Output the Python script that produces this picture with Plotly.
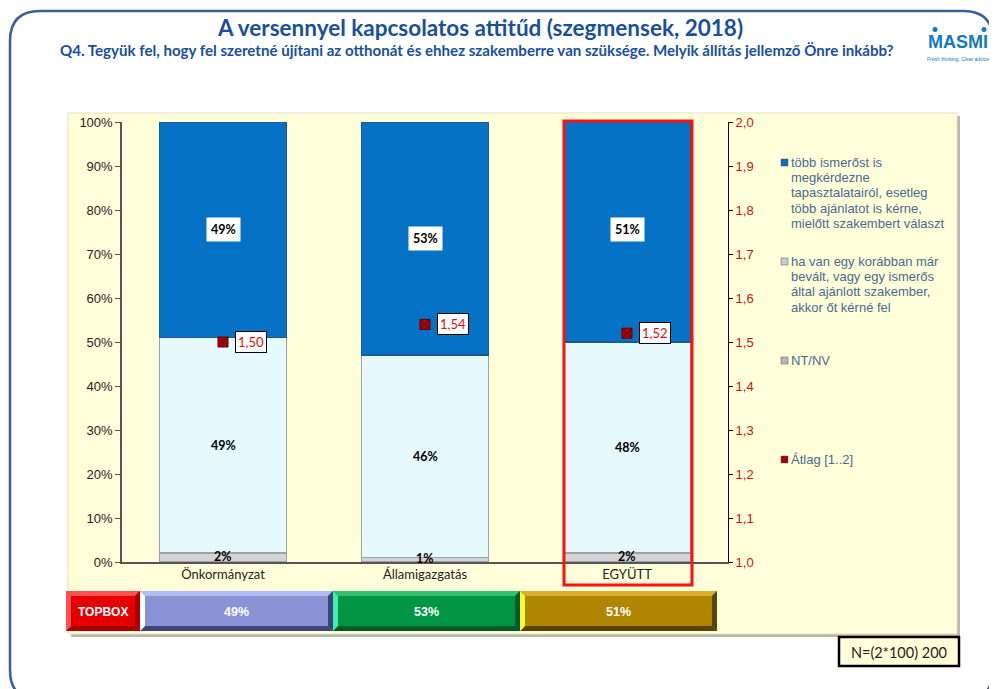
import plotly.graph_objects as go

# Adatok (szegmensek, 2018)
categories = ["Önkormányzat", "Államigazgatás", "EGYÜTT"]
nt_nv = [0.02, 0.01, 0.02]
ha_van = [0.49, 0.46, 0.48]
tobb = [0.49, 0.53, 0.51]
atlag = [1.50, 1.54, 1.52]
topbox_labels = ["49%", "53%", "51%"]

series_names = [
    "több ismerőst is<br>megkérdezne<br>tapasztalatairól, esetleg<br>több ajánlatot is kérne,<br>mielőtt szakembert választ",
    "ha van egy korábban már<br>bevált, vagy egy ismerős<br>által ajánlott szakember,<br>akkor őt kérné fel",
    "NT/NV",
    "Átlag [1..2]",
]

# az oldal 8px-es margója miatt a figura eltolva kerül a képre
OFF = 8
W, H = 997 - OFF, 689 - OFF
L, R, T, B = 122, 728, 122, 562   # rajzterület (oldal pixelekben)


def px(x):
    return (x - L) / (R - L)


def py(y):
    return (B - y) / (B - T)


def rect(x0, y0, x1, y1, fill, line=None, lw=0, layer="below"):
    return dict(type="rect", xref="paper", yref="paper",
                x0=px(x0), x1=px(x1), y0=py(y0), y1=py(y1),
                fillcolor=fill, line=dict(color=line or fill, width=lw), layer=layer)


def poly(pts, fill, layer="above"):
    p = "M " + " L ".join(f"{px(x):.5f},{py(y):.5f}" for x, y in pts) + " Z"
    return dict(type="path", xref="paper", yref="paper", path=p,
                fillcolor=fill, line=dict(width=0), layer=layer)


def bevel(x0, y0, x1, y1, main, light, dark, left=None, d=5):
    out = [rect(x0, y0, x1, y1, main, layer="above")]
    out.append(poly([(x0, y0), (x1, y0), (x1 - d, y0 + d), (x0 + d, y0 + d)], light))
    out.append(poly([(x0, y1), (x1, y1), (x1 - d, y1 - d), (x0 + d, y1 - d)], dark))
    out.append(poly([(x1, y0), (x1, y1), (x1 - d, y1 - d), (x1 - d, y0 + d)], dark))
    out.append(poly([(x0, y0), (x0, y1), (x0 + d, y1 - d), (x0 + d, y0 + d)], left or light))
    return out


def text(x, y, s, size, color, family="Lato", anchor="center", **kw):
    return dict(x=px(x), y=py(y), xref="paper", yref="paper", xanchor=anchor, yanchor="middle",
                showarrow=False, text=s, font=dict(family=family, size=size, color=color), **kw)


fig = go.Figure()

bar_line = dict(color="#9aa3a8", width=1.5)
fig.add_trace(go.Bar(x=categories, y=nt_nv, name="NT/NV", width=0.63,
                     marker=dict(color="#d4d4d4", line=bar_line)))
fig.add_trace(go.Bar(x=categories, y=ha_van, name="ha van", width=0.63,
                     marker=dict(color="#e6f9fd", line=bar_line)))
fig.add_trace(go.Bar(x=categories, y=tobb, name="több", width=0.63,
                     marker=dict(color="#0672c6", line=dict(color="#1a5a8e", width=1.5))))
fig.add_trace(go.Scatter(x=categories, y=atlag, yaxis="y2", mode="markers", name="Átlag",
                         marker=dict(symbol="square-x", size=10, color="#b00000",
                                     line=dict(color="#5a0000", width=1))))

annotations = []
for i, c in enumerate(categories):
    annotations.append(dict(x=c, y=nt_nv[i] + ha_van[i] + tobb[i] / 2, xref="x", yref="y",
                            text=f"<b>{round(tobb[i] * 100)}%</b>", showarrow=False,
                            bgcolor="white", borderpad=4,
                            font=dict(family="Lato", size=12.5, color="black")))
    annotations.append(dict(x=c, y=nt_nv[i] + ha_van[i] / 2, xref="x", yref="y",
                            text=f"<b>{round(ha_van[i] * 100)}%</b>", showarrow=False,
                            font=dict(family="Lato", size=12.5, color="black")))
    annotations.append(dict(x=c, y=nt_nv[i] / 2, xref="x", yref="y", yshift=1,
                            text=f"<b>{round(nt_nv[i] * 100)}%</b>", showarrow=False,
                            font=dict(family="Lato", size=12.5, color="black")))
    annotations.append(dict(x=c, y=atlag[i], xref="x", yref="y2", xshift=28,
                            text=f"{atlag[i]:.2f}".replace(".", ","), showarrow=False,
                            bgcolor="white", bordercolor="black", borderwidth=1, borderpad=2,
                            font=dict(family="Lato", size=13, color="#d01010")))

# jelmagyarázat (soronként, a sorköz 15.5px)
leg_y = [162, 261, 360, 459]
leg_col = ["#0a6cc0", "#c8ccd0", "#b8b8b8", "#a00000"]
shapes = []
for name, y, col in zip(series_names, leg_y, leg_col):
    for k, line in enumerate(name.split("<br>")):
        annotations.append(text(789, y + k * 15.4, line, 13, "#4a6a90",
                                family="Liberation Sans", anchor="left"))
    shapes.append(rect(781, y - 3, 788, y + 4, col, line="#555555", lw=0.5, layer="above"))

# háttér, keret
frame = ("M {a},{b} L {a},{c} Q {a},{d} {e},{d} L {f},{d} Q {g},{d} {g},{c} "
         "L {g},{h} Q {g},{i} {f},{i} L {e},{i} Q {a},{i} {a},{h} Z")
fx0, fy0, fx1, fy1, rr = 10, 11, 993, 700, 30
pts = dict(a=px(fx0), b=py(fy1 - rr), c=py(fy0 + rr), d=py(fy0), e=px(fx0 + rr),
           f=px(fx1 - rr), g=px(fx1), h=py(fy1 - rr), i=py(fy1))
shapes.insert(0, dict(type="path", xref="paper", yref="paper", layer="below",
                      path=frame.format(**{k: f"{v:.5f}" for k, v in pts.items()}),
                      line=dict(color="#3a5f9a", width=2.5), fillcolor="rgba(0,0,0,0)"))
shapes.insert(1, rect(71, 116, 960, 637, "#b8b8a8", layer="below"))
shapes.insert(2, rect(68, 113, 957, 634, "#ffffda", line="#e0e0c0", lw=1, layer="below"))

# kiemelés
shapes.append(rect(564, 121, 692, 585, "rgba(0,0,0,0)", line="#ff1010", lw=3, layer="above"))

# TOPBOX sor
shapes += bevel(66, 591, 140, 631, "#e40000", "#ff5050", "#a80000")
shapes += bevel(140, 591, 333, 631, "#8b93d6", "#b4baf2", "#3c4478", left="#ffffff")
shapes += bevel(333, 591, 520, 631, "#009646", "#30c070", "#005a28", left="#40f0b0")
shapes += bevel(520, 591, 717, 631, "#b08500", "#d8b030", "#5a4300", left="#ffff30")
annotations.append(text(103, 612, "<b>TOPBOX</b>", 12, "white", family="Liberation Sans"))
for lbl, xc in zip(topbox_labels, [236, 426, 618]):
    annotations.append(text(xc, 612, f"<b>{lbl}</b>", 12.5, "white", family="Liberation Sans"))

# N doboz
shapes.append(rect(839, 637, 959, 666, "#ffffda", line="black", lw=2.5, layer="above"))
annotations.append(text(899, 652, "N=(2*100) 200", 14.5, "#222222"))

# címek
annotations.append(text(480, 27, "<b>A versennyel kapcsolatos attitűd (szegmensek, 2018)</b>",
                        22.5, "#1a4f9c"))
annotations.append(text(477, 50, "<b>Q4. Tegyük fel, hogy fel szeretné újítani az otthonát és ehhez "
                        "szakemberre van szüksége. Melyik állítás jellemző Önre inkább?</b>",
                        15.1, "#1a4f9c"))
# logó
annotations.append(text(958, 42, "<b>MASMI</b>", 18, "#1578c2", family="Liberation Sans"))
annotations.append(text(958, 59, "Fresh thinking. Clear advice.", 5, "#1578c2",
                        family="Liberation Sans"))
for cx in [935, 984]:
    shapes.append(dict(type="circle", xref="paper", yref="paper", x0=px(cx - 2.5), x1=px(cx + 2.5),
                       y0=py(32), y1=py(27), fillcolor="#1578c2", line=dict(width=0), layer="above"))

fig.update_layout(
    width=W, height=H,
    margin=dict(l=L - OFF, r=W - (R - OFF), t=T - OFF, b=H - (B - OFF)),
    paper_bgcolor="white", plot_bgcolor="rgba(0,0,0,0)",
    barmode="stack", bargap=0.37, showlegend=False,
    separators=", ",
    xaxis=dict(showline=True, linecolor="#555555", linewidth=1.5, ticks="",
               tickfont=dict(family="Lato", size=13, color="#222222")),
    yaxis=dict(range=[0, 1], dtick=0.1, tickformat=".0%", showgrid=False, zeroline=False,
               showline=True, linecolor="#555555", linewidth=1.5, ticks="outside", ticklen=5,
               tickcolor="#555555", tickfont=dict(family="Liberation Sans", size=13, color="#222222")),
    yaxis2=dict(range=[1, 2], dtick=0.1, tickformat=".1f", overlaying="y", side="right",
                showgrid=False, zeroline=False, showline=True, linecolor="black", linewidth=1,
                ticks="outside", ticklen=4, tickcolor="black",
                tickfont=dict(family="Liberation Sans", size=13, color="#d01010")),
    shapes=shapes, annotations=annotations,
)

fig.write_html("out.html")
